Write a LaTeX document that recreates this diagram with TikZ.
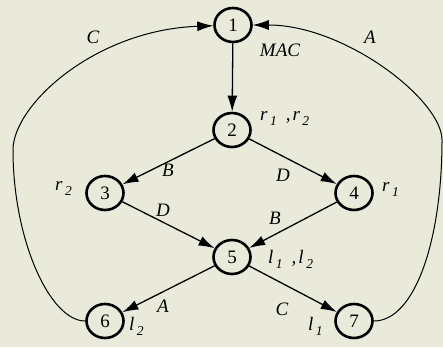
\documentclass[tikz,border=0pt]{standalone}
\usepackage{fontspec}
\setmainfont{Liberation Serif}
\usetikzlibrary{arrows.meta,shapes.geometric}
\definecolor{nen}{RGB}{233,234,218}
\newcommand{\chiso}[2]{\textit{#1}\hspace{2.5pt}\raisebox{-5pt}{\fontsize{13.5}{14}\selectfont\textit{#2}}}
\tikzset{
  dinh/.style={draw,ellipse,line width=2.6pt,minimum width=37pt,minimum height=34pt,inner sep=0pt,font=\fontsize{19}{22}\selectfont},
  canh/.style={line width=1.3pt,-{Latex[length=16pt,width=10pt]}},
  nhan/.style={font=\fontsize{19}{22}\selectfont\itshape,inner sep=0pt}
}
\begin{document}
\begin{tikzpicture}[x=1pt,y=-1pt]
    % Nền
    \fill[nen] (0,0) rectangle (443,347);
    \useasboundingbox (0,0) rectangle (443,347);

    % Các đỉnh
    \node[dinh] (n1) at (233,25) {1};
    \node[dinh] (n2) at (232,130) {2};
    \node[dinh] (n3) at (105,193) {3};
    \node[dinh] (n4) at (354,193) {4};
    \node[dinh] (n5) at (232,257) {5};
    \node[dinh] (n6) at (105,321) {6};
    \node[dinh] (n7) at (354,321) {7};

    % Các cạnh thẳng
    \draw[canh] (n1) -- (n2);
    \draw[canh] (n2) -- (n3);
    \draw[canh] (n2) -- (n4);
    \draw[canh] (n3) -- (n5);
    \draw[canh] (n4) -- (n5);
    \draw[canh] (n5) -- (n6);
    \draw[canh] (n5) -- (n7);

    % Hai cạnh cong về đỉnh 1
    \coordinate (kl) at (13,150);
    \coordinate (kr) at (442,140);
    \draw[canh,line width=1pt] (n6.west) .. controls (50,321) and (13,240) .. (kl)
        .. controls (13,105) and (95,30) .. (n1);
    \draw[canh,line width=1pt] (n7.east) .. controls (415,321) and (442,240) .. (kr)
        .. controls (442,100) and (345,25) .. (n1);

    % Nhãn cạnh
    \node[nhan] (lC1) at (93,37) {C};
    \node[nhan] (lA1) at (370,37) {A};
    \node[nhan] (lB1) at (168,170) {B};
    \node[nhan] (lD1) at (283,175) {D};
    \node[nhan] (lD2) at (163,210) {D};
    \node[nhan] (lB2) at (275,218) {B};
    \node[nhan] (lA2) at (163,306) {A};
    \node[nhan] (lC2) at (282,309) {C};

    % Nhãn đỉnh
    \node[nhan] (mac) at (280,50) {MAC};
    \node[nhan,anchor=west] (r12) at (260,119) {\chiso{r}{1}\hspace{9pt},\hspace{2pt}\chiso{r}{2}};
    \node[nhan,anchor=east] (r2) at (72,189) {\chiso{r}{2}};
    \node[nhan,anchor=west] (r1) at (382,190) {\chiso{r}{1}};
    \node[nhan,anchor=west] (l12) at (268,259) {\chiso{l}{1}\hspace{9pt},\hspace{2pt}\chiso{l}{2}};
    \node[nhan,anchor=west] (l2) at (129,326) {\chiso{l}{2}};
    \node[nhan,anchor=west] (l1) at (308,326) {\chiso{l}{1}};
\end{tikzpicture}
\end{document}
